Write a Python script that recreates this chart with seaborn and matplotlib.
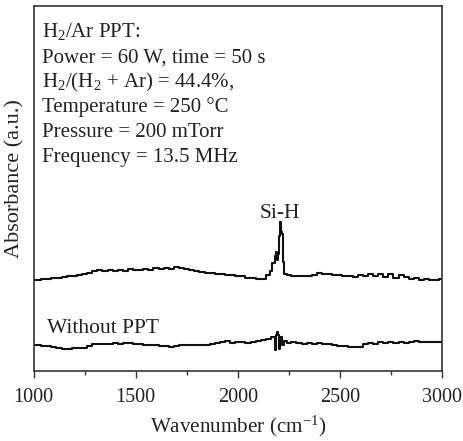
import numpy as np
import pandas as pd
import matplotlib
matplotlib.use("Agg")
import matplotlib.pyplot as plt
import seaborn as sns

# ---------------- data ----------------
wn_ppt = [1000, 1025, 1050, 1075, 1100, 1125, 1150, 1175, 1200, 1225, 1250, 1275,
          1300, 1325, 1350, 1375, 1400, 1425, 1450, 1475, 1500, 1525, 1550, 1575,
          1600, 1625, 1650, 1675, 1700, 1725, 1750, 1775, 1800, 1825, 1850, 1875,
          1900, 1925, 1950, 1975, 2000, 2025, 2050, 2075, 2100, 2125, 2150, 2165,
          2175, 2185, 2190, 2195, 2200, 2205, 2210, 2215, 2220, 2225, 2230, 2250,
          2275, 2300, 2325, 2350, 2375, 2400, 2425, 2450, 2475, 2500, 2525, 2550,
          2575, 2600, 2625, 2650, 2675, 2700, 2725, 2750, 2775, 2800, 2825, 2850,
          2875, 2900, 2925, 2950, 2975, 3000]
abs_ppt = [24.9, 25.0, 25.2, 25.3, 25.6, 25.5, 25.8, 26.0, 26.1, 26.4, 26.6, 26.9,
           27.5, 27.8, 27.4, 27.6, 27.5, 27.8, 27.4, 27.9, 27.6, 27.7, 28.0, 27.8,
           28.1, 27.9, 28.2, 28.0, 28.4, 28.1, 27.9, 27.8, 27.4, 27.2, 26.8, 26.9,
           26.6, 26.5, 26.4, 26.2, 26.0, 25.9, 25.6, 25.4, 25.1, 25.3, 26.3, 27.5,
           29.5, 31.5, 32.5, 30.5, 32.0, 37.0, 40.8, 38.0, 37.5, 30.0, 26.5, 26.2,
           25.9, 26.0, 26.1, 26.0, 26.4, 26.9, 26.7, 26.5, 26.3, 26.2, 25.9, 26.1,
           25.8, 26.2, 26.0, 26.5, 26.1, 26.6, 25.8, 26.7, 25.6, 26.4, 25.7, 25.3,
           25.5, 25.0, 25.2, 24.8, 25.0, 25.3]

wn_raw = [1000, 1025, 1050, 1075, 1100, 1125, 1150, 1175, 1200, 1225, 1250, 1275,
          1300, 1325, 1350, 1375, 1400, 1425, 1450, 1475, 1500, 1525, 1550, 1575,
          1600, 1625, 1650, 1675, 1700, 1725, 1750, 1775, 1800, 1825, 1850, 1875,
          1900, 1925, 1950, 1975, 2000, 2025, 2050, 2075, 2100, 2125, 2150, 2175,
          2185, 2190, 2195, 2200, 2205, 2210, 2220, 2230, 2250, 2275, 2300, 2325,
          2350, 2375, 2400, 2425, 2450, 2475, 2500, 2525, 2550, 2575, 2600, 2625,
          2650, 2675, 2700, 2725, 2750, 2775, 2800, 2825, 2850, 2875, 2900, 2925,
          2950, 2975, 3000]
abs_raw = [7.1, 7.0, 6.9, 6.8, 6.5, 6.2, 6.0, 6.0, 6.2, 6.3, 6.4, 6.8,
           7.4, 7.3, 7.5, 7.4, 7.6, 7.5, 7.8, 7.7, 7.4, 7.3, 7.2, 7.0,
           7.1, 6.9, 6.8, 6.7, 6.9, 7.0, 7.1, 7.0, 7.2, 7.1, 7.0, 7.4,
           7.6, 7.9, 8.1, 7.8, 8.0, 7.9, 7.8, 7.9, 8.1, 8.4, 8.8, 9.3,
           5.8, 10.0, 10.6, 9.8, 6.0, 9.2, 7.0, 8.2, 7.7, 7.9, 7.6, 7.4,
           7.6, 7.4, 7.8, 7.5, 7.3, 7.1, 6.9, 6.8, 6.7, 6.6, 6.6, 7.5,
           7.6, 7.5, 8.0, 7.8, 7.9, 7.8, 8.0, 7.8, 7.9, 8.1, 7.9, 8.0,
           7.9, 8.0, 8.0]

x_ticks = [1000, 1500, 2000, 2500, 3000]
x_tick_labels = ["1000", "1500", "2000", "2500", "3000"]

info_lines = [
    r"H$_\mathregular{2}$/Ar PPT:",
    "Power = 60 W, time = 50 s",
    r"H$_\mathregular{2}$/(H$_\mathregular{2}$ + Ar) = 44.4%,",
    "Temperature = 250 \u00b0C",
    "Pressure = 200 mTorr",
    "Frequency = 13.5 MHz",
]

# ---------------- style ----------------
sns.set_theme(style="ticks")
plt.rcParams["font.family"] = ["Liberation Serif", "DejaVu Serif"]
plt.rcParams["mathtext.fontset"] = "custom"
plt.rcParams["mathtext.rm"] = "Liberation Serif"
plt.rcParams["mathtext.it"] = "Liberation Serif:italic"
plt.rcParams["mathtext.bf"] = "Liberation Serif:bold"

fig = plt.figure(figsize=(4.63, 4.41), dpi=100)
ax = fig.add_axes([33.5 / 463, 70 / 441, 408.5 / 463, 365 / 441])

df_ppt = pd.DataFrame({"wn": wn_ppt, "a": abs_ppt})
df_raw = pd.DataFrame({"wn": wn_raw, "a": abs_raw})
sns.lineplot(data=df_ppt, x="wn", y="a", ax=ax, color="#111111", lw=1.5,
             estimator=None, drawstyle="steps-mid")
sns.lineplot(data=df_raw, x="wn", y="a", ax=ax, color="#111111", lw=1.5,
             estimator=None, drawstyle="steps-mid")

ax.set_xlim(1000, 3000)
ax.set_ylim(0, 100)
ax.set_xticks(x_ticks)
ax.set_xticklabels(x_tick_labels)
ax.set_xticks(np.arange(1250, 3000, 500), minor=True)
ax.set_yticks([])
ax.tick_params(axis="x", which="major", direction="out", length=5, width=1,
               labelsize=14.5, colors="#333333", labelcolor="#222222", pad=7)
ax.tick_params(axis="x", which="minor", direction="out", length=3, width=1,
               colors="#333333")
for s in ax.spines.values():
    s.set_visible(True)
    s.set_color("#333333")
    s.set_linewidth(1.2)

ax.set_xlabel("Wavenumber (cm$^{-1}$)", fontsize=15.2, color="#222222")
ax.set_ylabel("Absorbance (a.u.)", fontsize=16, color="#222222")
ax.xaxis.set_label_coords(0.5, -0.118)
ax.yaxis.set_label_coords(-0.022, 0.526)

baselines = [0.9164, 0.8452, 0.7781, 0.7096, 0.6411, 0.5726]
for txt, yb in zip(info_lines, baselines):
    ax.text(0.0208, yb, txt, transform=ax.transAxes, fontsize=15,
            ha="left", va="baseline", color="#222222")

ax.text(2207, (371 - 218) / 3.65, "Si-H", fontsize=15.5, ha="center",
        va="baseline", color="#222222")
ax.text(1065, (371 - 333) / 3.65, "Without PPT", fontsize=15.5, ha="left",
        va="baseline", color="#222222")

fig.savefig("out.png", dpi=100)
